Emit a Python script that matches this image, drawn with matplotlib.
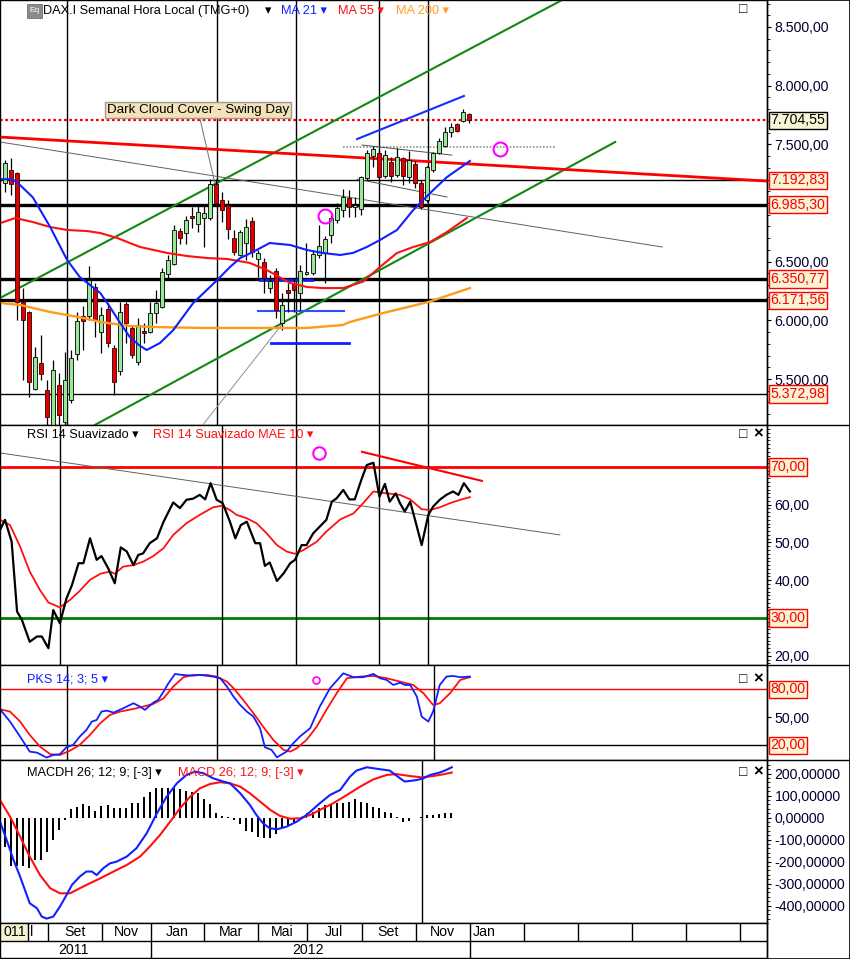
import numpy as np
import matplotlib
matplotlib.use('Agg')
import matplotlib.pyplot as plt
from matplotlib.ticker import FuncFormatter, MultipleLocator, FixedLocator
from matplotlib.patches import Rectangle
from matplotlib.lines import Line2D

plt.rcParams['font.family'] = ['Liberation Sans', 'DejaVu Sans']
plt.rcParams['font.size'] = 9.6

W, H = 850, 959
AX_R = 767              # right edge of the plot area (px)
XMIN, XMAX = -0.83, 126.37
FS = 9.6                # text size
HFS = 9.2               # panel header size
TFS = 10.2              # axis label size

# ---- weekly DAX candles ----
opens = [7171, 7281, 7256, 6156, 6071, 5415, 5637, 5407, 5108, 5449,
         5134, 5321, 5713, 6037, 6037, 6284, 5900, 6096, 5764, 5571,
         6139, 5935, 5645, 5909, 5900, 6062, 6113, 6395, 6480, 6761,
         6744, 6889, 6821, 6872, 6872, 7160, 7025, 6983, 6702, 6557,
         6659, 6846, 6523, 6497, 6276, 6420, 5977, 6258, 6318, 6233,
         6395, 6403, 6557, 6574, 6727, 6855, 6940, 7042, 6966, 6949,
         7213, 7400, 7426, 7230, 7349, 7238, 7383, 7221, 7332, 7170,
         7025, 7281, 7426, 7485, 7605, 7673, 7698, 7758]
highs = [7366, 7383, 7264, 6275, 6080, 5773, 5875, 5492, 5662, 5551,
         5730, 5747, 6067, 6122, 6463, 6318, 6114, 6147, 5790, 6156,
         6156, 5960, 6020, 5977, 6156, 6258, 6446, 6557, 6813, 6787,
         6889, 6966, 6974, 6974, 7202, 7202, 7093, 7025, 6770, 6770,
         6863, 6880, 6599, 6531, 6386, 6446, 6233, 6318, 6361, 6472,
         6659, 6599, 6813, 6718, 6897, 7000, 7119, 7111, 7051, 7230,
         7451, 7485, 7451, 7451, 7392, 7468, 7392, 7443, 7358, 7196,
         7315, 7434, 7554, 7647, 7681, 7681, 7800, 7766]
lows = [7094, 7068, 6003, 5492, 5346, 5407, 5492, 5100, 5090, 5100,
        5110, 5295, 5662, 5747, 6003, 5858, 5722, 5773, 5364, 5530,
        5807, 5679, 5620, 5807, 5892, 5977, 6105, 6344, 6471, 6651,
        6651, 6787, 6753, 6625, 6855, 6983, 6838, 6693, 6557, 6548,
        6514, 6540, 6369, 6233, 6233, 6020, 5917, 6071, 6071, 6088,
        6386, 6386, 6531, 6318, 6659, 6830, 6880, 6880, 6880, 6897,
        7196, 7307, 7213, 7213, 7179, 7221, 7153, 7170, 7128, 6949,
        7008, 7264, 7417, 7477, 7562, 7605, 7690, 7681]
closes = [7341, 7162, 6156, 6003, 5474, 5688, 5543, 5176, 5577, 5193,
          5492, 5679, 5994, 5994, 6344, 6003, 6045, 5807, 5474, 6071,
          5977, 5705, 5960, 5892, 6062, 6147, 6412, 6514, 6770, 6702,
          6855, 6872, 6923, 6914, 7160, 7000, 6940, 6778, 6582, 6753,
          6795, 6582, 6574, 6361, 6335, 6088, 6131, 6233, 6258, 6420,
          6412, 6565, 6633, 6693, 6872, 6957, 7051, 6966, 6983, 7221,
          7426, 7460, 7221, 7409, 7230, 7392, 7230, 7366, 7170, 6966,
          7307, 7426, 7528, 7605, 7647, 7613, 7775, 7704.55]

# moving averages (week, value)
ma21_x = [-0.8, 1, 2, 4.6, 7.5, 10.3, 12.4, 15.8, 17.4, 19.1, 20.7, 22.2, 23.5,
          25.7, 27.9, 31.2, 35.2, 37.3, 39, 41.1, 43.9, 47.3, 50.1, 52.7, 55.6,
          57.7, 60, 62.2, 65, 67.7, 70.5, 73.3, 77.1]
ma21_v = [7203, 7203, 7177, 7049, 6795, 6514, 6369, 6233, 6114, 5977, 5858, 5790,
          5747, 5807, 5917, 6147, 6344, 6454, 6531, 6582, 6659, 6642, 6599, 6574,
          6557, 6574, 6625, 6685, 6770, 6940, 7085, 7221, 7358]
ma55_x = [-0.8, 1.7, 4.6, 7.5, 10.3, 13.6, 15.8, 18.6, 20.7, 22.4, 26.9, 30.2,
          33.5, 36.8, 40.6, 43.4, 47.3, 50.1, 52.7, 56.1, 59.4, 62.2, 65.0, 67.7,
          70.5, 73.3, 76.6]
ma55_v = [6828, 6872, 6838, 6795, 6770, 6761, 6744, 6702, 6659, 6625, 6574, 6548,
          6531, 6523, 6489, 6429, 6318, 6284, 6275, 6275, 6330, 6455, 6574, 6625,
          6667, 6753, 6872]
ma200_x = [-0.8, 2.5, 7.5, 13, 15.8, 20.7, 24.5, 33, 40, 50, 56, 57.2, 62.7, 70.2, 77.1]
ma200_v = [6148, 6131, 6071, 6020, 5986, 5952, 5943, 5935, 5935, 5935, 5960, 5986,
           6062, 6156, 6275]

# horizontal levels (value, thick?)
levels = [7192.83, 6985.30, 6350.77, 6171.56, 5372.98]
level_thick = [False, True, True, True, False]
last_price = 7704.55

# RSI 14 and its average
rsi_x = [-0.83, 0, 1.1, 2.0, 2.8, 4.1, 5.3, 6.1, 7.2, 8.0, 9.1, 10.2, 11.1, 12.2,
         13.0, 14.1, 15.2, 16.0, 17.1, 18.2, 19.2, 20.2, 21.3, 22.1, 22.9, 24.0,
         25.2, 26.3, 27.9, 29.0, 30.1, 31.2, 32.3, 33.2, 34.1, 35.1, 36.1, 37.3,
         38.2, 39.1, 40.1, 41.5, 42.3, 43.1, 43.9, 45.1, 46.2, 47.3, 48.1, 49.2,
         50.0, 51.1, 52.2, 53.3, 54.2, 55.0, 56.1, 57.1, 58.0, 59.1, 60.0, 61.1,
         62.1, 63.0, 63.8, 64.8, 65.5, 66.3, 67.2, 68.3, 69.1, 70.2, 71.0, 72.1,
         73.2, 74.3, 75.2, 76.1, 77.1]
rsi_v = [53.3, 56.0, 50.2, 31.7, 29.5, 23.7, 25.1, 25.1, 22.0, 32.1, 28.6, 35.2,
         38.7, 44.5, 44.5, 51.1, 45.4, 46.4, 43.2, 39.2, 48.7, 47.6, 44.0, 46.7,
         47.1, 49.8, 51.1, 55.5, 60.6, 59.1, 61.3, 61.6, 62.6, 61.4, 65.7, 61.3,
         60.4, 55.5, 51.1, 54.6, 55.5, 49.8, 49.8, 43.8, 44.7, 39.8, 41.8, 44.5,
         45.4, 49.3, 49.3, 52.4, 54.2, 56.0, 60.8, 61.7, 63.9, 61.4, 61.4, 66.6,
         70.5, 71.1, 62.1, 65.5, 60.8, 63.0, 60.4, 58.2, 60.8, 54.2, 49.3, 57.3,
         59.5, 61.3, 62.6, 63.5, 62.6, 65.7, 63.5]
rsi_ma_x = [-0.83, 0.83, 2.5, 4.1, 5.8, 7.2, 9.1, 10.8, 12.4, 14.1, 15.8, 17.4,
            18.2, 19.6, 21.3, 22.9, 24.6, 26.3, 27.9, 30.1, 32.3, 34.5, 35.9, 37.3,
            38.4, 40.1, 41.7, 43.4, 45.1, 46.7, 48.1, 49.5, 51.7, 53.3, 55.6, 57.8,
            59.4, 61.1, 63.3, 65.5, 67.2, 69.1, 70.5, 72.1, 73.8, 75.5, 77.1]
rsi_ma_v = [56.0, 54.6, 48.9, 42.3, 37.4, 34.1, 32.8, 34.8, 37.2, 40.1, 41.7, 42.3,
            41.7, 43.6, 44.0, 44.9, 46.4, 48.5, 52.0, 55.1, 57.3, 59.3, 59.7, 58.6,
            57.3, 56.4, 55.1, 52.4, 49.3, 47.6, 47.0, 48.0, 50.2, 52.9, 56.1, 57.7,
            60.4, 63.5, 63.0, 62.6, 61.4, 58.8, 58.6, 59.3, 60.4, 61.3, 62.0]

# PKS 14;3;5 stochastic
pk_x = [-0.83, 0.83, 2.5, 4.1, 5.3, 6.9, 8.0, 9.1, 10.2, 11.3, 12.4, 13.5, 14.4,
        15.2, 16.0, 16.9, 18.0, 19.6, 21.3, 22.4, 23.2, 24.6, 25.4, 26.3, 27.1,
        28.2, 29.3, 30.1, 31.2, 32.3, 34.5, 35.7, 36.8, 37.9, 39.0, 40.1, 41.2,
        42.3, 43.1, 44.2, 45.1, 46.7, 47.8, 48.9, 50.6, 52.2, 53.9, 56.1, 57.8,
        59.4, 61.1, 62.2, 63.3, 64.4, 65.5, 66.3, 67.2, 68.3, 69.1, 70.2, 71.0,
        72.1, 73.2, 74.3, 75.5, 77.1]
pk_v = [58.6, 45.4, 29.3, 13.2, 12.1, 6.8, 9.6, 10.4, 17.9, 20.4, 29.3, 36.4, 45.4,
        47.1, 56.1, 57.1, 55.0, 59.6, 65.0, 61.4, 57.9, 65.7, 68.6, 77.5, 86.4,
        96.4, 95.4, 95.0, 94.6, 95.4, 93.6, 91.8, 82.9, 72.1, 63.2, 56.1, 50.7,
        38.2, 17.9, 15.0, 7.1, 13.2, 22.1, 29.3, 38.2, 61.4, 81.1, 97.1, 92.9,
        92.9, 96.4, 91.8, 90.0, 84.6, 87.1, 84.6, 84.6, 72.1, 50.7, 45.4, 56.1,
        84.6, 93.6, 94.3, 92.9, 93.6]
pd_x = [-0.83, 0.83, 2.5, 4.1, 5.8, 7.5, 9.1, 10.8, 12.4, 14.1, 15.8, 17.4, 19.1,
        21.3, 22.9, 24.6, 26.3, 27.9, 29.6, 31.2, 33.4, 35.1, 36.8, 37.9, 39.5,
        41.2, 42.8, 44.5, 46.2, 47.3, 48.4, 50.0, 51.7, 53.3, 55.0, 56.7, 58.9,
        61.1, 63.3, 65.5, 67.7, 69.4, 71.0, 72.1, 73.8, 75.5, 77.1]
pd_v = [58.6, 56.1, 45.4, 31.1, 18.6, 10.4, 9.6, 14.3, 20.4, 31.1, 43.6, 52.5,
        56.1, 58.9, 61.4, 64.3, 70.4, 82.9, 92.9, 95.4, 95.4, 93.6, 88.2, 81.1,
        68.6, 54.3, 40.0, 25.7, 15.0, 13.2, 16.8, 25.7, 40.0, 57.9, 75.7, 91.8,
        93.6, 94.3, 91.8, 88.2, 84.6, 75.7, 63.2, 65.0, 75.7, 90.0, 92.9]

# MACD 26;12;9 shifted [-3]
macd_x = [-0.83, 0.28, 1.4, 2.5, 4.1, 5.3, 6.1, 6.9, 8.0, 9.1, 10.2, 11.1, 12.4,
          13.5, 14.4, 15.2, 16.3, 17.4, 18.5, 20.2, 21.8, 23.5, 25.2, 26.8, 28.5,
          30.1, 31.5, 32.9, 34.5, 36.2, 37.3, 39.0, 40.6, 41.7, 42.8, 43.9, 45.1,
          46.7, 48.4, 50.0, 52.2, 53.9, 55.6, 57.2, 58.3, 60.0, 62.2, 63.8, 65.5,
          66.3, 68.3, 69.4, 70.5, 72.1, 73.2, 74.1]
macd_v = [-18, -102, -192, -268, -389, -412, -450, -459, -450, -405, -352, -306,
          -268, -245, -245, -261, -230, -208, -200, -177, -139, -71, 20, 95, 156,
          194, 209, 202, 179, 164, 156, 111, 58, 12, -26, -48, -53, -41, -18, 12,
          65, 103, 126, 186, 214, 229, 220, 214, 179, 164, 171, 179, 194, 205, 217,
          229]
sig_x = [-0.83, 0.83, 2.5, 4.1, 5.8, 7.5, 9.1, 10.8, 12.4, 14.1, 15.8, 18.0, 20.2,
         22.4, 24.0, 25.7, 27.4, 29.0, 30.7, 32.3, 34.0, 35.7, 37.3, 39.0, 40.6,
         42.3, 44.0, 45.6, 47.3, 48.9, 50.6, 52.2, 54.4, 56.7, 58.9, 61.1, 63.3,
         64.9, 67.2, 69.1, 71.0, 72.7, 74.1]
sig_v = [80, 5, -86, -177, -261, -321, -344, -344, -321, -298, -276, -245, -215,
         -177, -132, -79, -18, 42, 95, 133, 153, 161, 156, 141, 111, 73, 35, 8, -5,
         -3, 12, 35, 65, 103, 141, 174, 194, 198, 189, 183, 189, 197, 205]
hist_v = [-135, -220, -220, -220, -230, -192, -192, -155, -102, -56, -11, 38, 50,
          61, 53, 32, 53, 58, 45, 45, 45, 65, 68, 92, 115, 133, 136, 136, 136, 129,
          121, 118, 111, 83, 61, 23, 8, 2, -11, -30, -59, -64, -89, -94, -91, -74,
          -48, -33, -18, -3, 20, 27, 45, 58, 61, 65, 68, 73, 83, 73, 65, 50, 42, 27,
          20, 2, -18, -14, -3, 5, 12, 12, 17, 23, 23]

# date axis
month_edges = [3.8, 7.1, 16.1, 24.2, 33.0, 42.0, 50.1, 59.2, 68.2, 77.1, 86.1,
               95.0, 104.0, 112.9, 121.9]
month_names = ['Set', 'Nov', 'Jan', 'Mar', 'Mai', 'Jul', 'Set', 'Nov', 'Jan']
month_pos = [11.6, 20.1, 28.5, 37.5, 46.0, 54.6, 63.6, 72.6, 79.4]
year_names = ['2011', '2012']
year_pos = [11.3, 50.2]
year_edges = [24.2, 77.1]

LABEL_C = '#000030'
BOX_FC = '#f8f4d6'


def de_num(v, nd):
    s = f"{v:,.{nd}f}"
    return s.replace(',', '#').replace('.', ',').replace('#', '.')


def add_panel(y0, y1):
    ax = fig.add_axes([0, 1 - y1 / H, AX_R / W, (y1 - y0) / H])
    ax.set_xlim(XMIN, XMAX)
    ax.yaxis.tick_right()
    ax.tick_params(axis='x', which='both', bottom=False, labelbottom=False)
    ax.tick_params(axis='y', which='major', length=3, width=0.8, pad=2.5,
                   labelsize=TFS, labelcolor=LABEL_C)
    ax.tick_params(axis='y', which='minor', length=1.8, width=0.6)
    for s in ax.spines.values():
        s.set_linewidth(1)
    return ax


def value_box(ax, v, txt, color):
    ax.annotate(txt, xy=(1.0, v), xycoords=('axes fraction', 'data'),
                xytext=(2.5, 0), textcoords='offset points', ha='left', va='center',
                color=color, fontsize=TFS, annotation_clip=False, zorder=10,
                bbox=dict(boxstyle='square,pad=0.12', fc=BOX_FC, ec=color, lw=1))


def ftext(x, y, s, size=HFS, **kw):
    fig.text(x / W, 1 - y / H, s, va='center', ha='left', fontsize=size, **kw)


fig = plt.figure(figsize=(W / 100, H / 100), dpi=100)

# ================= main price panel =================
ax = add_panel(0, 425)
ax.set_ylim(5108, 8730)
ax.yaxis.set_major_locator(FixedLocator([5500, 6000, 6500, 7500, 8000, 8500]))
ax.yaxis.set_minor_locator(MultipleLocator(100))
ax.yaxis.set_major_formatter(FuncFormatter(lambda v, p: de_num(v, 2)))

for v, thick in zip(levels, level_thick):
    ax.axhline(v, color='black', lw=2.4 if thick else 1.0, zorder=2)
ax.axhline(last_price, color='red', ls=(0, (1.2, 1.2)), lw=1.6, zorder=2)
for xv in [10.3, 35.2, 48.3, 62.0, 70.1]:
    ax.axvline(xv, color='black', lw=1.0, zorder=2)

# trend lines
ax.plot([-0.83, 92.4], [6190, 8730], color='#118811', lw=1.5, zorder=3)
ax.plot([14.9, 101.2], [5108, 7520], color='#118811', lw=1.5, zorder=3)
ax.plot([-0.83, 126.4], [7562, 7187], color='red', lw=2, zorder=3)
ax.plot([-0.83, 109.0], [7520, 6625], color='#606060', lw=0.7, zorder=3)
ax.plot([58.4, 76.1], [7545, 7912], color='#1030ff', lw=1.5, zorder=3)
ax.plot([56.1, 91.2], [7477, 7477], color='#909090', lw=1.2, ls=(0, (1, 1)), zorder=3)
ax.plot([59.2, 74.1], [7494, 7408], color='#505050', lw=0.7, zorder=3)
ax.plot([58.4, 73.3], [7204, 7051], color='#505050', lw=0.7, zorder=3)
ax.plot([42.3, 50.9], [6344, 6344], color='#1020ff', lw=2, zorder=3)
ax.plot([42.0, 56.2], [6079, 6079], color='#3050ff', lw=1.5, zorder=3)
ax.plot([44.1, 57.0], [5807, 5807], color='#1020ff', lw=2, zorder=3)
ax.plot([32.3, 34.8], [7724, 7170], color='#707070', lw=0.7, zorder=3)
ax.plot([32.8, 46.1], [5108, 5977], color='#909090', lw=0.7, zorder=3)

# candles
o = np.array(opens, float)
c = np.array(closes, float)
weeks = np.arange(len(o))
ax.vlines(weeks, lows, highs, color='black', lw=0.9, zorder=4)
up = c >= o
ax.bar(weeks[up], (c - o)[up], bottom=o[up], width=0.66, color='#98e898',
       edgecolor='black', lw=0.6, zorder=5)
ax.bar(weeks[~up], (o - c)[~up], bottom=c[~up], width=0.66, color='#e00000',
       edgecolor='#300000', lw=0.6, zorder=5)

# moving averages
ax.plot(ma200_x, ma200_v, color='#ff9a1a', lw=1.7, zorder=6)
ax.plot(ma55_x, ma55_v, color='#ff1010', lw=1.5, zorder=6)
ax.plot(ma21_x, ma21_v, color='#1020ff', lw=1.5, zorder=6)

# circles
ax.plot([53.1, 82.1], [6889, 7460], 'o', ms=10, mfc='none', mec='#ff00ff', mew=1.5, zorder=7)

ax.text(32.0, 7792, 'Dark Cloud Cover - Swing Day', ha='center', va='center', fontsize=FS,
        zorder=8, bbox=dict(boxstyle='square,pad=0.15', fc='#f3e2b8', ec='#9a9a9a', lw=1))

for v in levels:
    value_box(ax, v, de_num(v, 2), 'red')
value_box(ax, last_price, de_num(last_price, 2), 'black')

# ================= RSI panel =================
ar = add_panel(425, 665)
ar.set_ylim(17.55, 81.1)
ar.yaxis.set_major_locator(FixedLocator([20, 40, 50, 60]))
ar.yaxis.set_minor_locator(MultipleLocator(1))
ar.yaxis.set_major_formatter(FuncFormatter(lambda v, p: de_num(v, 2)))
ar.axhline(70, color='red', lw=2)
ar.axhline(30, color='#008000', lw=2)
for xv in [9.1, 36.0, 48.3, 62.0, 70.1]:
    ar.axvline(xv, color='black', lw=1.0)
ar.plot([-0.83, 92.0], [73.7, 52.0], color='#606060', lw=0.7)
ar.plot([59.2, 79.1], [74.0, 66.3], color='red', lw=1.5)
ar.plot(rsi_ma_x, rsi_ma_v, color='#ff1010', lw=1.3)
ar.plot(rsi_x, rsi_v, color='black', lw=1.6)
ar.plot([52.1], [73.7], 'o', ms=9, mfc='none', mec='#ff00ff', mew=1.5)
value_box(ar, 70, '70,00', 'red')
value_box(ar, 30, '30,00', 'red')

# ================= PKS panel =================
ap = add_panel(665, 760)
ap.set_ylim(4.2, 106.0)
ap.yaxis.set_major_locator(FixedLocator([50]))
ap.yaxis.set_major_formatter(FuncFormatter(lambda v, p: de_num(v, 2)))
ap.axhline(80, color='red', lw=1.0)
ap.axhline(20, color='black', lw=1.0)
for xv in [10.3, 35.2, 71.1]:
    ap.axvline(xv, color='black', lw=1.0)
ap.plot(pd_x, pd_v, color='#ff1010', lw=1.3)
ap.plot(pk_x, pk_v, color='#1020ff', lw=1.3)
ap.plot([51.6], [90.0], 'o', ms=5, mfc='none', mec='#ff00ff', mew=1.2)
value_box(ap, 80, '80,00', 'red')
value_box(ap, 20, '20,00', 'red')

# ================= MACD panel =================
am = add_panel(760, 923)
am.set_ylim(-479, 262)
am.yaxis.set_major_locator(MultipleLocator(100))
am.yaxis.set_minor_locator(MultipleLocator(20))
am.yaxis.set_major_formatter(FuncFormatter(lambda v, p: f"{v:.5f}".replace('.', ',')))
am.axvline(69.2, color='black', lw=1.0)
am.bar(np.arange(len(hist_v)), hist_v, width=0.33, color='black', zorder=3)
am.plot(sig_x, sig_v, color='#ff1010', lw=1.5, zorder=4)
am.plot(macd_x, macd_v, color='#1020ff', lw=1.5, zorder=4)

# ================= date axis =================
ad = fig.add_axes([0, 1 - 958 / H, AX_R / W, (958 - 923) / H])
ad.set_xlim(XMIN, XMAX)
ad.set_ylim(0, 1)
ad.set_xticks([])
ad.set_yticks([])
for s in ad.spines.values():
    s.set_linewidth(1)
split = (958 - 941) / 35
ad.axhline(split, color='black', lw=1)
ad.vlines(month_edges, split, 1, color='black', lw=1)
ad.vlines(year_edges, 0, split, color='black', lw=1)
for name, xp in zip(month_names, month_pos):
    ad.text(xp, 0.74, name, ha='center', va='center', fontsize=TFS)
for name, xp in zip(year_names, year_pos):
    ad.text(xp, 0.24, name, ha='center', va='center', fontsize=TFS)
ad.add_patch(Rectangle((XMIN, split), 3.8 - XMIN, 1 - split, fc='#f6f2d2', ec='none'))
ad.text(3.6, 0.74, '011', ha='right', va='center', fontsize=TFS)
ad.text(4.1, 0.74, 'l', ha='left', va='center', fontsize=TFS)

# ================= headers and frame =================
fig.patches.append(Rectangle((27 / W, 1 - 18 / H), 15 / W, 14 / H, transform=fig.transFigure,
                             fc='#8a8a8a', ec='#606060', lw=0.5))
ftext(29, 10, 'Eq', size=6, color='white')
ftext(43, 11, 'DAX.I Semanal Hora Local (TMG+0)', color='black')
ftext(265, 11, '▾', color='black')
ftext(281, 11, 'MA 21 ▾', color='#1020ff')
ftext(338, 11, 'MA 55 ▾', color='#ff1010')
ftext(396, 11, 'MA 200 ▾', color='#ffa020')

ftext(27, 435, 'RSI 14 Suavizado ▾', color='black')
ftext(153, 435, 'RSI 14 Suavizado MAE 10 ▾', color='#ff1010')
ftext(27, 679, 'PKS 14; 3; 5 ▾', color='#1020ff')
ftext(27, 773, 'MACDH 26; 12; 9; [-3] ▾', color='black')
ftext(178, 773, 'MACD 26; 12; 9; [-3] ▾', color='#ff1010')

ftext(739, 9, '□', size=10, color='black')
for yb in [434, 679, 772]:
    ftext(739, yb, '□', size=10, color='black')
    ftext(753, yb, '×', size=12, color='black', fontweight='bold')

for yb in [425, 665, 760]:
    fig.lines.append(Line2D([AX_R / W, 1], [1 - yb / H] * 2, transform=fig.transFigure,
                            color='black', lw=1))
fig.lines.append(Line2D([AX_R / W, AX_R / W], [0, 1], transform=fig.transFigure,
                        color='black', lw=1))
fig.patches.append(Rectangle((0.0005, 0.0005), 0.999, 0.999, transform=fig.transFigure,
                             fill=False, ec='black', lw=1.2))

fig.savefig('out.png', dpi=100)
